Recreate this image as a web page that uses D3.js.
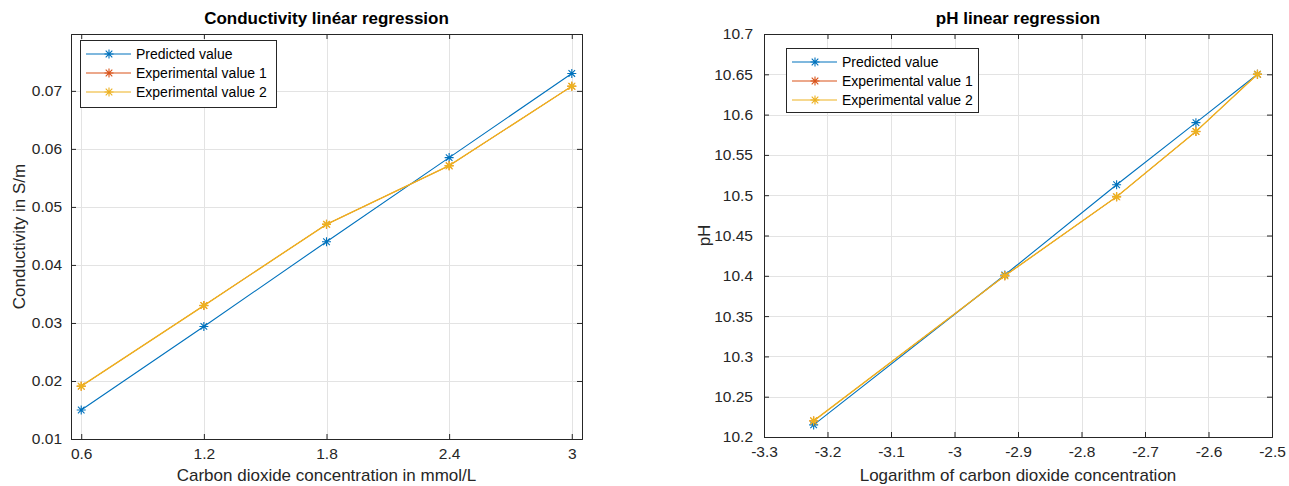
<!DOCTYPE html>
<meta charset="utf-8">
<script src="https://d3js.org/d3.v7.min.js"></script>
<style>
body { margin: 0; background: #fff; font-family: "Liberation Sans", Arial, sans-serif; }
.grid line { stroke: #e3e3e3; stroke-width: 1; shape-rendering: crispEdges; }
.tick-label { fill: #262626; font-size: 15.5px; }
.title { fill: #000; font-size: 17px; font-weight: bold; }
.axis-label { fill: #262626; font-size: 17px; }
.legend text { fill: #000; font-size: 14px; }
</style>
<body>
<script>
// conductivity panel
var concX = [0.6, 1.2, 1.8, 2.4, 3.0];
var condPredicted = [0.0150, 0.0294, 0.0440, 0.0585, 0.0730];
var condExp1 = [0.0191, 0.0330, 0.0470, 0.0571, 0.0708];
var condExp2 = [0.0191, 0.0330, 0.0470, 0.0571, 0.0708];
var condXTicks = [0.6, 1.2, 1.8, 2.4, 3];
var condYTicks = [0.01, 0.02, 0.03, 0.04, 0.05, 0.06, 0.07];

// pH panel
var logX = [-3.2218, -2.9208, -2.7447, -2.6198, -2.5229];
var phPredicted = [10.215, 10.401, 10.513, 10.590, 10.650];
var phExp1 = [10.220, 10.400, 10.498, 10.579, 10.650];
var phExp2 = [10.220, 10.400, 10.498, 10.579, 10.650];
var phXTicks = [-3.3, -3.2, -3.1, -3, -2.9, -2.8, -2.7, -2.6, -2.5];
var phYTicks = [10.2, 10.25, 10.3, 10.35, 10.4, 10.45, 10.5, 10.55, 10.6, 10.65, 10.7];

var seriesNames = ["Predicted value", "Experimental value 1", "Experimental value 2"];
var colors = ["#0072BD", "#D95319", "#EDB120"];
var widths = [1.1, 1.0, 1.4];

var svg = d3.select("body").append("svg")
    .attr("width", 1289)
    .attr("height", 486);

function star(g, x, y, color, w) {
  var s = 4.5, d = 3.3;
  var p = "M" + (x - s) + "," + y + "H" + (x + s) +
          "M" + x + "," + (y - s) + "V" + (y + s) +
          "M" + (x - d) + "," + (y - d) + "L" + (x + d) + "," + (y + d) +
          "M" + (x - d) + "," + (y + d) + "L" + (x + d) + "," + (y - d);
  g.append("path").attr("d", p).attr("stroke", color).attr("stroke-width", w).attr("fill", "none");
}

function drawPanel(cfg) {
  var g = svg.append("g");
  var x = d3.scaleLinear().domain(cfg.xDomain).range([cfg.left, cfg.right]);
  var y = d3.scaleLinear().domain(cfg.yDomain).range([cfg.bottom, cfg.top]);

  // grid
  var grid = g.append("g").attr("class", "grid");
  grid.selectAll(".gx").data(cfg.xTicks.filter(function(t) { return x(t) > cfg.left + 1 && x(t) < cfg.right - 1; }))
    .enter().append("line")
    .attr("x1", function(d) { return Math.round(x(d)) + 0.5; })
    .attr("x2", function(d) { return Math.round(x(d)) + 0.5; })
    .attr("y1", cfg.top).attr("y2", cfg.bottom);
  grid.selectAll(".gy").data(cfg.yTicks.filter(function(t) { return y(t) > cfg.top + 1 && y(t) < cfg.bottom - 1; }))
    .enter().append("line")
    .attr("y1", function(d) { return Math.round(y(d)) + 0.5; })
    .attr("y2", function(d) { return Math.round(y(d)) + 0.5; })
    .attr("x1", cfg.left).attr("x2", cfg.right);

  // axes with inward ticks on all sides
  var tl = 5;
  g.append("g").attr("transform", "translate(0," + cfg.bottom + ")")
    .call(d3.axisBottom(x).tickValues(cfg.xTicks).tickSize(-tl).tickPadding(9).tickFormat(cfg.xFmt))
    .call(styleAxis);
  g.append("g").attr("transform", "translate(0," + cfg.top + ")")
    .call(d3.axisTop(x).tickValues(cfg.xTicks).tickSize(-tl).tickFormat(""))
    .call(styleAxis);
  g.append("g").attr("transform", "translate(" + cfg.left + ",0)")
    .call(d3.axisLeft(y).tickValues(cfg.yTicks).tickSize(-tl).tickPadding(cfg.yPad).tickFormat(cfg.yFmt))
    .call(styleAxis);
  g.append("g").attr("transform", "translate(" + cfg.right + ",0)")
    .call(d3.axisRight(y).tickValues(cfg.yTicks).tickSize(-tl).tickFormat(""))
    .call(styleAxis);

  // series
  var line = d3.line()
    .x(function(d) { return x(d[0]); })
    .y(function(d) { return y(d[1]); });
  cfg.series.forEach(function(vals, i) {
    var pts = cfg.xs.map(function(v, j) { return [v, vals[j]]; });
    g.append("path").datum(pts)
      .attr("d", line)
      .attr("fill", "none")
      .attr("stroke", colors[i])
      .attr("stroke-width", widths[i]);
    pts.forEach(function(p) { star(g, x(p[0]), y(p[1]), colors[i], widths[i]); });
  });

  // title and labels
  var cx = (cfg.left + cfg.right) / 2;
  g.append("text").attr("class", "title").attr("x", cx).attr("y", 24)
    .attr("text-anchor", "middle").text(cfg.title);
  g.append("text").attr("class", "axis-label").attr("x", cx).attr("y", 481)
    .attr("text-anchor", "middle").text(cfg.xLabel);
  g.append("text").attr("class", "axis-label")
    .attr("transform", "translate(" + cfg.yLabelX + "," + ((cfg.top + cfg.bottom) / 2) + ") rotate(-90)")
    .attr("text-anchor", "middle").text(cfg.yLabel);

  // legend
  var lg = g.append("g").attr("class", "legend");
  var L = cfg.legend;
  lg.append("rect").attr("x", L.x + 0.5).attr("y", L.y + 0.5).attr("width", L.w).attr("height", L.h)
    .attr("fill", "#fff").attr("stroke", "#262626").attr("stroke-width", 1);
  seriesNames.forEach(function(name, i) {
    var ry = L.y + 14 + i * 19;
    lg.append("line").attr("x1", L.x + 6).attr("x2", L.x + 51).attr("y1", ry).attr("y2", ry)
      .attr("stroke", colors[i]).attr("stroke-width", 1.1);
    star(lg, L.x + 29, ry, colors[i], 1.1);
    lg.append("text").attr("x", L.x + 56).attr("y", ry + 5).text(name);
  });
}

function styleAxis(a) {
  a.select(".domain").attr("stroke", "#262626").attr("stroke-width", 1);
  a.selectAll(".tick line").attr("stroke", "#262626");
  a.selectAll(".tick text").attr("class", "tick-label").attr("font-family", null).attr("font-size", null);
}

drawPanel({
  left: 71, right: 582, top: 34, bottom: 439,
  xDomain: [0.55, 3.05], yDomain: [0.01, 0.0798],
  xTicks: condXTicks, yTicks: condYTicks,
  xFmt: function(d) { return String(d); },
  yFmt: function(d) { return d.toFixed(2); },
  yPad: 9,
  xs: concX, series: [condPredicted, condExp1, condExp2],
  title: "Conductivity linéar regression",
  xLabel: "Carbon dioxide concentration in mmol/L",
  yLabel: "Conductivity in S/m", yLabelX: 25,
  legend: { x: 80, y: 40, w: 196, h: 67 }
});

drawPanel({
  left: 764, right: 1272, top: 34, bottom: 437,
  xDomain: [-3.3, -2.5], yDomain: [10.2, 10.7],
  xTicks: phXTicks, yTicks: phYTicks,
  xFmt: function(d) { return String(d); },
  yFmt: function(d) { return String(+d.toFixed(2)); },
  yPad: 11,
  xs: logX, series: [phPredicted, phExp1, phExp2],
  title: "pH linear regression",
  xLabel: "Logarithm of carbon dioxide concentration",
  yLabel: "pH", yLabelX: 710,
  legend: { x: 786, y: 48, w: 192, h: 64 }
});
</script>
</body>
</html>
